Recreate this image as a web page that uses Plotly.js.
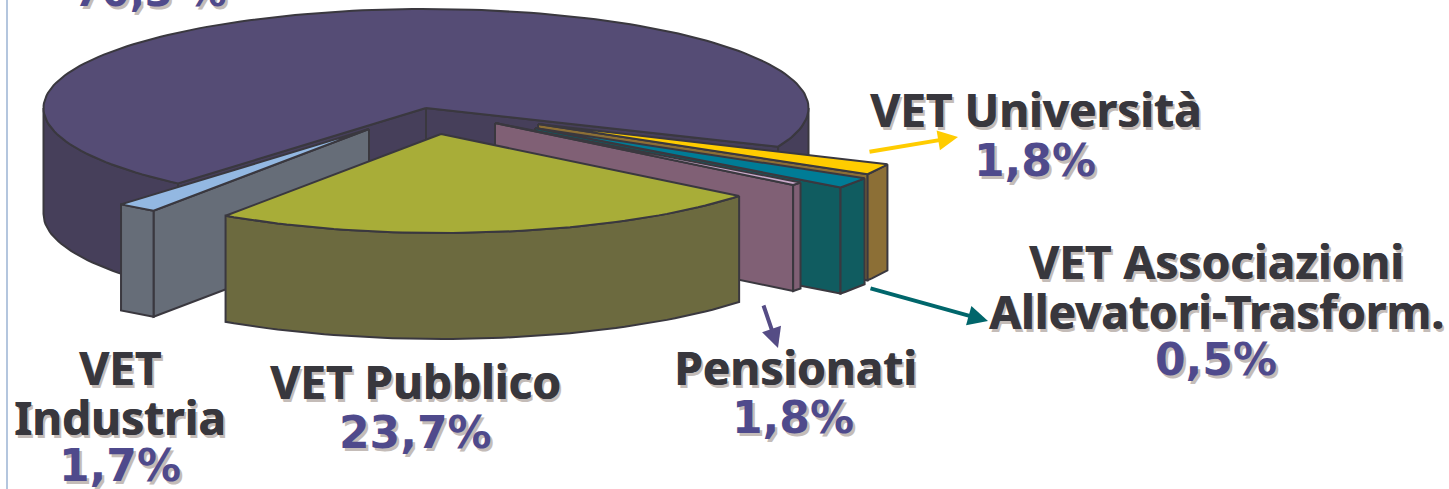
<!DOCTYPE html>
<html><head><meta charset="utf-8">
<script src="https://cdn.plot.ly/plotly-3.0.1.min.js"></script>
<style>html,body{margin:0;padding:0;background:#fff;overflow:hidden}#c{width:1449px;height:489px}</style>
</head><body><div id="c"></div>
<script>
// Wedges in drawing sequence around the pie, as they are drawn in the picture
const wedgeNames  = ['Università wedge','Teal wedge','Pink wedge','Pubblico wedge','Industria wedge','Main wedge'];
const wedgeValues = [1.8, 1.8, 0.5, 23.7, 1.7, 70.3];
// Printed labels
const labelLines = ['70,3 %','VET Università','1,8%','VET Associazioni','Allevatori-Trasform.','0,5%','Pensionati','1,8%','VET Pubblico','23,7%','VET','Industria','1,7%'];
const labelIsPct = [true,false,true,false,false,true,false,true,false,true,false,false,true];

// Presentation
const labelX = [150,1035,1035,1216,1216,1216,795,793,415,415,120,120,120];
const labelY = [1,109,160,261,311,359,367,417,381,432,367,417,465];
const wedgeStyle = [
 {apex:[538,124],top:'#ffcc00',side:'#8c6f36'},
 {apex:[535,128],top:'#007c96',side:'#105c60'},
 {apex:[495,123],top:'#c8a8c8',side:'#806075'},
 {apex:[441,134],top:'#a8ad38',side:'#6c6a3f'},
 {apex:[369,129],top:'#93b8e2',side:'#666d78'},
 {apex:[426,108],top:'#554c75',side:'#463f5a'}
];
const drawOrder = [5,0,1,2,4,3];
const RX=382.5, RY=99, DEPTH=106, START=24, EDGE='#3a383f';

const total = wedgeValues.reduce((a,b)=>a+b,0);
const spans = []; let acc = START;
wedgeValues.forEach(v=>{const next=acc+v/total*360; spans.push([acc,next]); acc=next;});
spans[5][1] = 360+START-1;

const rad = d=>d*Math.PI/180;
function poly(pts,fill,name){
  return {type:'scatter',mode:'lines',x:pts.map(p=>p[0]),y:pts.map(p=>p[1]),fill:'toself',fillcolor:fill,
    line:{color:EDGE,width:2,shape:'linear'},hoverinfo:'name',name:name,showlegend:false};
}
const traces=[];
drawOrder.forEach(i=>{
  const st=wedgeStyle[i],[a0,a1]=spans[i],[cx,cy]=st.apex;
  const P=a=>[cx+RX*Math.cos(rad(a)),cy+RY*Math.sin(rad(a))];
  const down=p=>[p[0],p[1]+DEPTH];
  const arc=(s,e)=>{const o=[];const n=Math.max(2,Math.ceil((e-s)/1.5));for(let k=0;k<=n;k++)o.push(P(s+(e-s)*k/n));return o;};
  const cut=a=>{const p=P(a);return [[cx,cy],p,down(p),down([cx,cy]),[cx,cy]];};
  if(Math.cos(rad(a0))<0) traces.push(poly(cut(a0),st.side,wedgeNames[i]));
  if(Math.cos(rad(a1))>0) traces.push(poly(cut(a1),st.side,wedgeNames[i]));
  // front-facing parts of the outer wall
  [[0,180],[360,540]].forEach(([lo,hi])=>{
    const s=Math.max(a0,lo),e=Math.min(a1,hi);
    if(e>s){const up=arc(s,e);const lowr=up.slice().reverse().map(down);
      traces.push(poly(up.concat(lowr,[up[0]]),st.side,wedgeNames[i]));}
  });
  const top=[[cx,cy]].concat(arc(a0,a1),[[cx,cy]]);
  traces.push(poly(top,st.top,wedgeNames[i]));
});

const annotations = labelLines.map((t,i)=>{
  const pct=labelIsPct[i], col=pct?'#4f4a8c':'#38373d';
  return {text:'<b>'+t+'</b>',x:labelX[i],y:labelY[i],xref:'x',yref:'y',xanchor:'center',yanchor:i===0?'top':'middle',yshift:i===0?34:0,showarrow:false,
  font:{family:pct?'"DejaVu Sans", sans-serif':'"Noto Sans", sans-serif',size:i===0?40:(pct?44:46),color:col,
    shadow:(pct?'':'0.7px 0 0 '+col+', ')+'2.5px 2.5px 0 #c4bcb8'}};
});
const arrows=[
 {x:958,y:137,ax:868,ay:152,c:'#ffcc00'},
 {x:988,y:321,ax:869,ay:288,c:'#00666b'},
 {x:778,y:348,ax:763,ay:304,c:'#554c85'}
];
arrows.forEach(a=>annotations.push({x:a.x,y:a.y,ax:a.ax,ay:a.ay,xref:'x',yref:'y',axref:'x',ayref:'y',text:'',
  showarrow:true,arrowhead:2,arrowsize:1,arrowwidth:4,arrowcolor:a.c}));

const layout={width:1449,height:489,margin:{l:0,r:0,t:0,b:0},paper_bgcolor:'#fff',plot_bgcolor:'#fff',showlegend:false,
  xaxis:{range:[0,1449],visible:false,fixedrange:true},
  yaxis:{range:[489,0],visible:false,fixedrange:true},
  annotations,
  shapes:[{type:'line',xref:'x',yref:'y',x0:7,x1:7,y0:0,y1:489,line:{color:'#b4c6de',width:2}}]
};
Plotly.newPlot('c',traces,layout,{displayModeBar:false,staticPlot:true});
</script></body></html>
